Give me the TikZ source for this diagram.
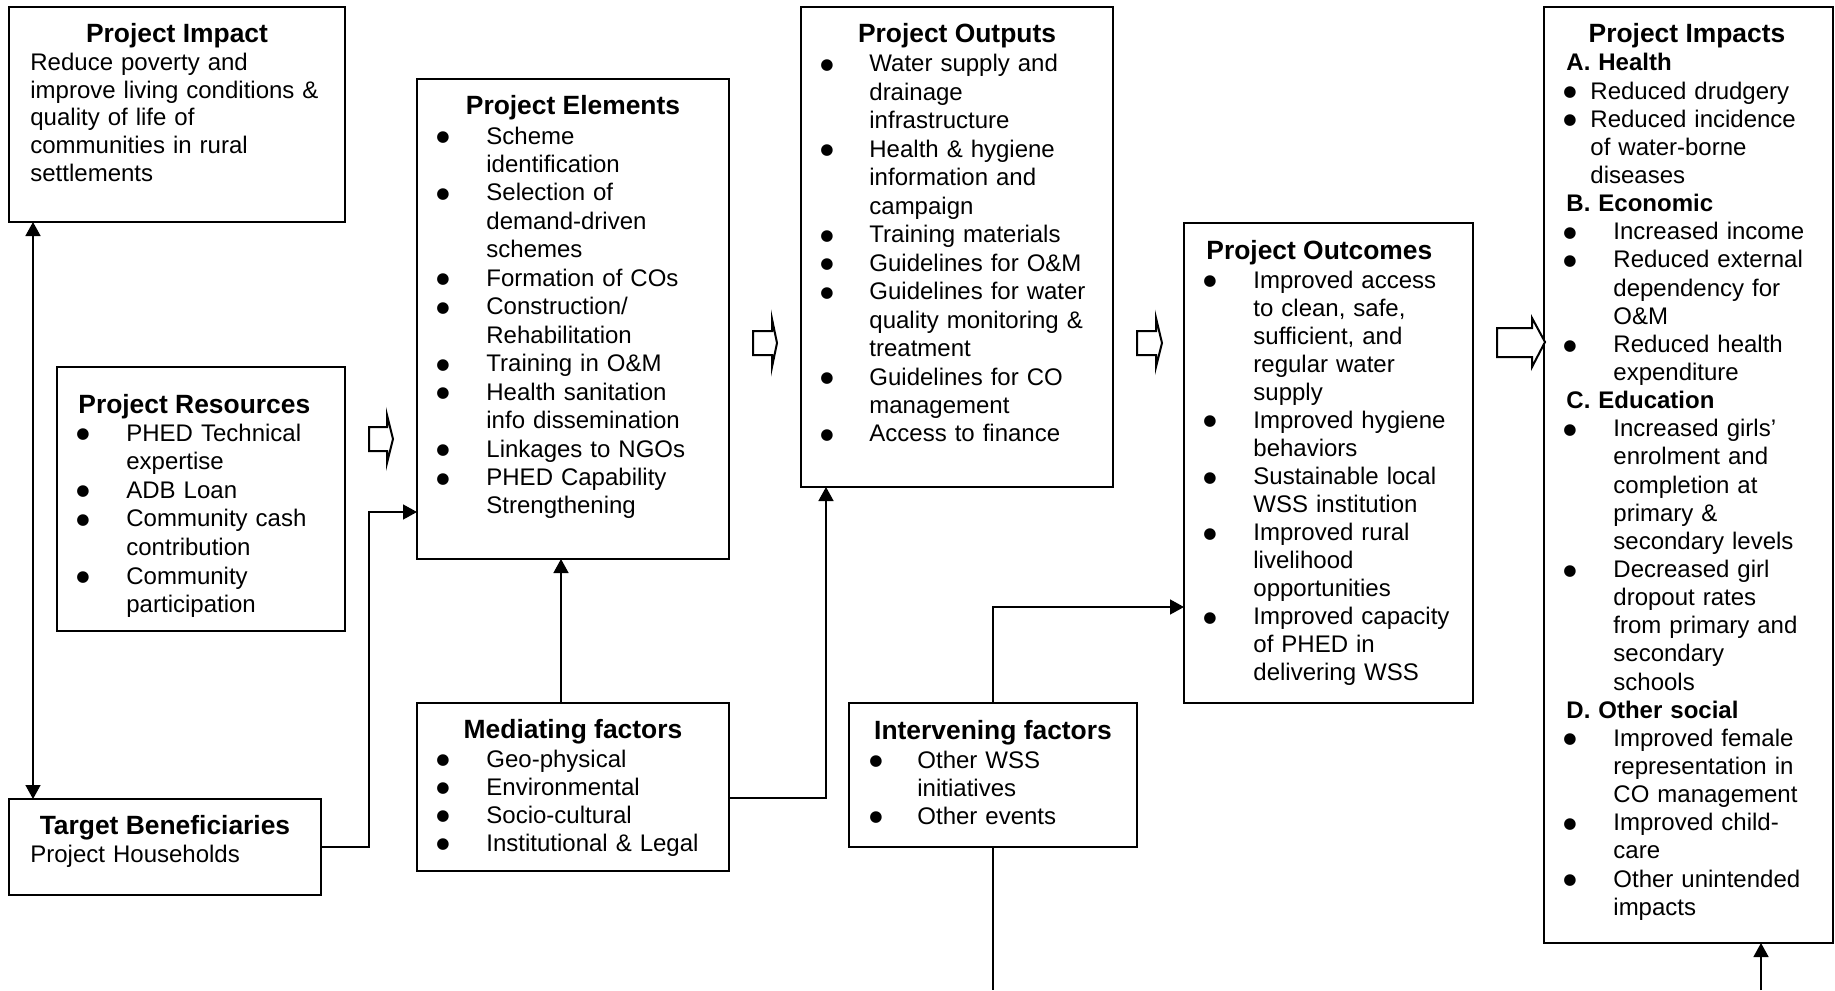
\documentclass[tikz,border=0pt]{standalone}
\usepackage{fontspec}
\setmainfont{Liberation Sans}
\newfontfamily\dvfont{DejaVu Sans}
\usetikzlibrary{arrows.meta}
\newcommand{\bdot}{\raisebox{1.2pt}{\dvfont\fontsize{7.6}{8}\selectfont ●}}
% bullet line: #1 bullet offset, #2 text indent, #3 text
\newcommand{\bx}[3]{\makebox[#2][l]{\hspace*{#1}\bdot}#3}
% continuation line: #1 indent, #2 text
\newcommand{\cx}[2]{\hspace*{#1}#2}
\newcommand{\bl}[1]{\bx{0pt}{25pt}{#1}}
\newcommand{\cl}[1]{\cx{25pt}{#1}}
\begin{document}
\begin{tikzpicture}[x=0.5pt,y=-0.5pt,
  box/.style={draw,line width=1pt,inner sep=0pt,outer sep=0pt,anchor=north west},
  ttl/.style={font=\bfseries\fontsize{13.2}{15}\selectfont,inner sep=0pt,anchor=base},
  ttlw/.style={font=\bfseries\fontsize{13.2}{15}\selectfont,inner sep=0pt,anchor=base west},
  body/.style={font=\fontsize{12}{#1}\selectfont,inner sep=0pt,anchor=base west,text width=170pt,align=left},
  conn/.style={line width=0.75pt},
  arr/.style={conn,-{Triangle[length=7pt,width=7.5pt]}},
  arrboth/.style={conn,{Triangle[length=7pt,width=7.5pt]}-{Triangle[length=7pt,width=7.5pt]}},
  blk/.style={draw,line width=1pt,fill=white,line join=miter}
]
\useasboundingbox (0,0) rectangle (1835,990);

% boxes
\node[box,minimum width=168pt,minimum height=107.5pt] (impact) at (9,7) {};
\node[box,minimum width=144pt,minimum height=132pt] (resources) at (57,367) {};
\node[box,minimum width=156pt,minimum height=48pt] (target) at (9,799) {};
\node[box,minimum width=156pt,minimum height=240pt] (elements) at (417,79) {};
\node[box,minimum width=156pt,minimum height=84pt] (mediating) at (417,703) {};
\node[box,minimum width=156pt,minimum height=240pt] (outputs) at (801,7) {};
\node[box,minimum width=144pt,minimum height=72pt] (intervening) at (849,703) {};
\node[box,minimum width=144.5pt,minimum height=240pt] (outcomes) at (1184,223) {};
\node[box,minimum width=144.5pt,minimum height=468pt] (impacts) at (1544,7) {};

% texts
\node[ttl] (impactT) at (177,43) {Project Impact};
\node[body=13.75pt] (impactB) at (30,71) {Reduce poverty and\\improve living conditions \&\\quality of life of\\communities in rural\\settlements};

\node[ttlw] (resourcesT) at (78,413) {Project Resources};
\node[body=14.3pt] (resourcesB) at (76,441) {\bl{PHED Technical}\\\cl{expertise}\\\bl{ADB Loan}\\\bl{Community cash}\\\cl{contribution}\\\bl{Community}\\\cl{participation}};

\node[ttl] (targetT) at (165,834) {Target Beneficiaries};
\node[body=14pt] (targetB) at (30,862) {Project Households};

\node[ttl] (elementsT) at (573,114) {Project Elements};
\node[body=14.23pt] (elementsB) at (436,144) {\bl{Scheme}\\\cl{identification}\\\bl{Selection of}\\\cl{demand-driven}\\\cl{schemes}\\\bl{Formation of COs}\\\bl{Construction/}\\\cl{Rehabilitation}\\\bl{Training in O\&M}\\\bl{Health sanitation}\\\cl{info dissemination}\\\bl{Linkages to NGOs}\\\bl{PHED Capability}\\\cl{Strengthening}};

\node[ttl] (mediatingT) at (573,738) {Mediating factors};
\node[body=14pt] (mediatingB) at (436,767) {\bl{Geo-physical}\\\bl{Environmental}\\\bl{Socio-cultural}\\\bl{Institutional \& Legal}};

\node[ttl] (outputsT) at (957,43) {Project Outputs};
\node[body=14.23pt] (outputsB) at (820,72) {\bx{0pt}{24.5pt}{Water supply and}\\\cx{24.5pt}{drainage}\\\cx{24.5pt}{infrastructure}\\\bx{0pt}{24.5pt}{Health \& hygiene}\\\cx{24.5pt}{information and}\\\cx{24.5pt}{campaign}\\\bx{0pt}{24.5pt}{Training materials}\\\bx{0pt}{24.5pt}{Guidelines for O\&M}\\\bx{0pt}{24.5pt}{Guidelines for water}\\\cx{24.5pt}{quality monitoring \&}\\\cx{24.5pt}{treatment}\\\bx{0pt}{24.5pt}{Guidelines for CO}\\\cx{24.5pt}{management}\\\bx{0pt}{24.5pt}{Access to finance}};

\node[ttl] (interveningT) at (993,739) {Intervening factors};
\node[body=14pt] (interveningB) at (869,768) {\bx{0pt}{24pt}{Other WSS}\\\cx{24pt}{initiatives}\\\bx{0pt}{24pt}{Other events}};

\node[ttlw] (outcomesT) at (1206,259) {Project Outcomes};
\node[body=14.03pt] (outcomesB) at (1203,288) {\bl{Improved access}\\\cl{to clean, safe,}\\\cl{sufficient, and}\\\cl{regular water}\\\cl{supply}\\\bl{Improved hygiene}\\\cl{behaviors}\\\bl{Sustainable local}\\\cl{WSS institution}\\\bl{Improved rural}\\\cl{livelihood}\\\cl{opportunities}\\\bl{Improved capacity}\\\cl{of PHED in}\\\cl{delivering WSS}};

\node[ttl] (impactsT) at (1687,43) {Project Impacts};
\node[body=14.07pt] (impactsB) at (1566,71) {\textbf{A. Health}\\\bx{-1.5pt}{12pt}{Reduced drudgery}\\\bx{-1.5pt}{12pt}{Reduced incidence}\\\cx{12pt}{of water-borne}\\\cx{12pt}{diseases}\\\textbf{B. Economic}\\\bx{-1.5pt}{23.5pt}{Increased income}\\\bx{-1.5pt}{23.5pt}{Reduced external}\\\cx{23.5pt}{dependency for}\\\cx{23.5pt}{O\&M}\\\bx{-1.5pt}{23.5pt}{Reduced health}\\\cx{23.5pt}{expenditure}\\\textbf{C. Education}\\\bx{-1.5pt}{23.5pt}{Increased girls’}\\\cx{23.5pt}{enrolment and}\\\cx{23.5pt}{completion at}\\\cx{23.5pt}{primary \&}\\\cx{23.5pt}{secondary levels}\\\bx{-1.5pt}{23.5pt}{Decreased girl}\\\cx{23.5pt}{dropout rates}\\\cx{23.5pt}{from primary and}\\\cx{23.5pt}{secondary}\\\cx{23.5pt}{schools}\\\textbf{D. Other social}\\\bx{-1.5pt}{23.5pt}{Improved female}\\\cx{23.5pt}{representation in}\\\cx{23.5pt}{CO management}\\\bx{-1.5pt}{23.5pt}{Improved child-}\\\cx{23.5pt}{care}\\\bx{-1.5pt}{23.5pt}{Other unintended}\\\cx{23.5pt}{impacts}};

% hollow block arrows
\draw[blk] (369,427) -- (387,427) -- (387,415) -- (393,439) -- (387,463) -- (387,451) -- (369,451) -- cycle;
\draw[blk] (753,331) -- (772,331) -- (772,319) -- (777,343) -- (772,367) -- (772,355) -- (753,355) -- cycle;
\draw[blk] (1137,331) -- (1156,331) -- (1156,318) -- (1162,343) -- (1156,367) -- (1156,355) -- (1137,355) -- cycle;
\draw[blk] (1497,328) -- (1532,328) -- (1532,318) -- (1545,342) -- (1532,367) -- (1532,357) -- (1497,357) -- cycle;

% connectors
\coordinate (tb) at (369,512);
\coordinate (iy) at (0,607);
\coordinate (bottomline) at (0,990);
\coordinate (pb) at (1761,990);
\draw[arrboth] ([xshift=12pt]impact.south west) -- ([xshift=12pt]target.north west);
\draw[arr] (target.east) -| (tb) -- (tb -| elements.west);
\draw[arr] ([xshift=-6pt]mediating.north) -- ([xshift=-6pt]elements.south);
\draw[arr] ([yshift=-5.5pt]mediating.east) -| ([xshift=12.5pt]outputs.south west);
\draw[arr] (intervening.north) |- (iy -| outcomes.west);
\draw[conn] (intervening.south) -- (intervening.south |- bottomline);
\draw[arr] (pb) -- (pb |- impacts.south);
\end{tikzpicture}
\end{document}
